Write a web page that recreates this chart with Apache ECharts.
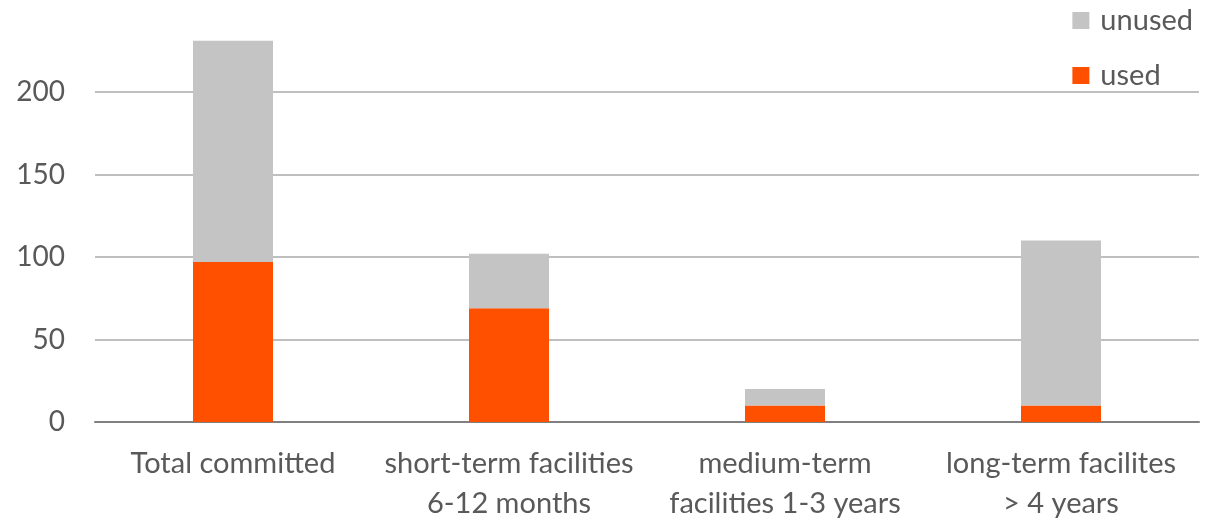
<!DOCTYPE html>
<html>
<head>
<meta charset="utf-8">
<script src="https://cdn.jsdelivr.net/npm/echarts@6/dist/echarts.min.js"></script>
<style>
  html, body { margin: 0; padding: 0; background: #fff; }
</style>
</head>
<body>
<div id="box" style="width:1210px;height:520px"></div>
<script>
// chart data
const categories = [
  "Total committed",
  "short-term facilities\n6-12 months",
  "medium-term\nfacilities 1-3 years",
  "long-term facilites\n> 4 years"
];
const usedData = [97, 69, 10, 10];
const unusedData = [134, 33, 10, 100];

let myCharts = echarts.init(document.getElementById("box"));
let option = {
  animation: false,
  textStyle: { fontFamily: "Lato" },
  legend: {
    orient: "vertical",
    right: 12,
    top: 1,
    icon: "rect",
    itemWidth: 17,
    itemHeight: 17,
    itemGap: 26,
    data: ["unused", "used"],
    textStyle: { fontSize: 29, color: "#595959", fontFamily: "Lato", padding: [0, 0, 0, 6] }
  },
  grid: {
    left: 95,
    right: 11,
    top: 92,
    bottom: 98,
    outerBoundsMode: "none",
    containLabel: false
  },
  xAxis: {
    type: "category",
    data: categories,
    axisTick: { show: false },
    axisLine: { lineStyle: { color: "#808080", width: 2 } },
    axisLabel: {
      fontSize: 29,
      color: "#595959",
      margin: 22,
      lineHeight: 40,
      interval: 0
    }
  },
  yAxis: {
    type: "value",
    min: 0,
    max: 200,
    interval: 50,
    axisLine: { show: false },
    axisTick: { show: false },
    axisLabel: { fontSize: 28, color: "#595959", margin: 30 },
    splitLine: { lineStyle: { color: "#bfbfbf", width: 2 } }
  },
  series: [
    {
      name: "used",
      type: "bar",
      stack: "total",
      clip: false,
      barWidth: 80,
      itemStyle: { color: "#ff5000" },
      data: usedData
    },
    {
      name: "unused",
      type: "bar",
      stack: "total",
      clip: false,
      barWidth: 80,
      itemStyle: { color: "#c4c4c4" },
      data: unusedData
    }
  ]
};
myCharts.setOption(option);
</script>
</body>
</html>
